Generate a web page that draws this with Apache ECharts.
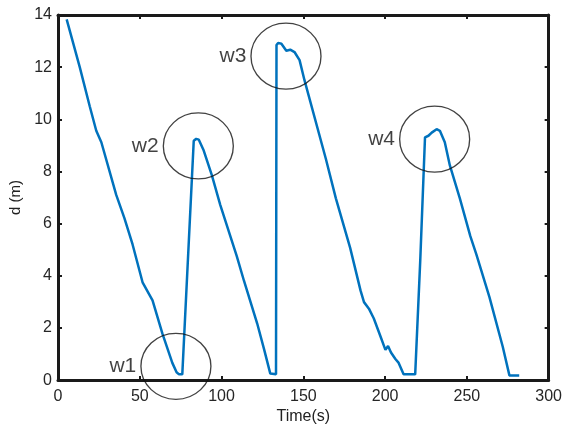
<!DOCTYPE html>
<html>
<head>
<meta charset="utf-8">
<script src="https://cdn.jsdelivr.net/npm/echarts@6/dist/echarts.min.js"></script>
<style>
  html, body { margin: 0; padding: 0; background: #fff; }
  #chart { width: 565px; height: 430px; }
</style>
</head>
<body>
<div id="chart"></div>
<script>
// distance d (m) over time (s)
var times = [5.3, 13.3, 19.4, 23.4, 26.5, 35.6, 40.6, 45.6, 51.7, 57.8, 63.8, 69.9, 72.5, 74, 76,
  83, 84.5, 86.1, 89.1, 94.1, 99.2, 109.3, 113.7, 121.8, 126.1, 129.8, 133.3,
  133.6, 134.6, 136.6, 139.6, 142, 144.6, 147.7, 150.7, 163.8, 169.9, 178.6, 185, 187.1,
  190.1, 193.1, 197.2, 200.2, 201.8, 203.6, 206.3, 208.3, 211.3, 218.4, 221.5, 224.4,
  226.5, 228.5, 231.5, 233.5, 236.5, 239.6, 245.7, 252.1, 255.8, 263.8, 271.9, 276, 282];
var distances = [13.83, 12.0, 10.5, 9.56, 9.12, 7.1, 6.21, 5.2, 3.75, 3.06, 1.79, 0.66, 0.3, 0.22, 0.22,
  9.18, 9.25, 9.22, 8.8, 7.85, 6.72, 4.75, 3.81, 2.17, 1.16, 0.25, 0.22,
  12.85, 12.93, 12.9, 12.63, 12.67, 12.58, 12.27, 11.5, 8.48, 6.97, 5.08, 3.43, 2.99,
  2.74, 2.36, 1.67, 1.16, 1.31, 1.06, 0.81, 0.66, 0.22, 0.22, 4.6, 9.31,
  9.37, 9.49, 9.62, 9.56, 9.12, 8.23, 6.97, 5.52, 4.82, 3.18, 1.29, 0.18, 0.18];

// circled spots
var markNames = ['w1', 'w2', 'w3', 'w4'];
var markTimes = [72.1, 85.8, 139.4, 230.3];
var markDists = [0.53, 8.98, 12.42, 9.24];

var lineData = times.map(function (t, i) { return [t, distances[i]]; });
var markData = markNames.map(function (n, i) {
  return { name: n, value: [markTimes[i], markDists[i]] };
});

var font = "'Liberation Sans', Arial, sans-serif";
var axisLine = { show: true, onZero: false, lineStyle: { color: '#1a1a1a', width: 3 } };
var axisTick = { inside: true, length: 4, lineStyle: { color: '#1a1a1a', width: 2 } };

var chart = echarts.init(document.getElementById('chart'));
chart.setOption({
  animation: false,
  textStyle: { fontFamily: font },
  grid: { left: 58, right: 12, top: 15, bottom: 46 },
  xAxis: [{
    type: 'value', min: 0, max: 300, interval: 50,
    name: 'Time(s)', nameLocation: 'middle', nameGap: 27,
    nameTextStyle: { fontSize: 16, color: '#222', fontFamily: font },
    axisLine: axisLine,
    axisTick: axisTick,
    axisLabel: { fontSize: 16, color: '#262626', margin: 8, fontFamily: font },
    splitLine: { show: false }
  }, {
    type: 'value', min: 0, max: 300, interval: 50, position: 'top',
    axisLine: axisLine,
    axisTick: axisTick,
    axisLabel: { show: false },
    splitLine: { show: false }
  }],
  yAxis: [{
    type: 'value', min: 0, max: 14, interval: 2,
    name: 'd (m)', nameLocation: 'middle', nameGap: 32, nameRotate: 90,
    nameTextStyle: { fontSize: 15, color: '#222', fontFamily: font },
    axisLine: axisLine,
    axisTick: axisTick,
    axisLabel: { fontSize: 16, color: '#262626', margin: 6, fontFamily: font },
    splitLine: { show: false }
  }, {
    type: 'value', min: 0, max: 14, interval: 2, position: 'right',
    axisLine: axisLine,
    axisTick: axisTick,
    axisLabel: { show: false },
    splitLine: { show: false }
  }],
  series: [{
    type: 'line',
    data: lineData,
    showSymbol: false,
    lineStyle: { color: '#0072BD', width: 2.5 },
    z: 3
  }, {
    type: 'scatter',
    data: markData,
    clip: false,
    symbol: 'circle',
    symbolSize: [70, 66],
    itemStyle: { color: 'rgba(0,0,0,0)', borderColor: '#111', borderWidth: 1.3 },
    label: {
      show: true, position: 'left', distance: 4, formatter: '{b}',
      fontSize: 21, color: '#111', fontFamily: font
    },
    emphasis: { disabled: true },
    z: 4
  }]
});
</script>
</body>
</html>
